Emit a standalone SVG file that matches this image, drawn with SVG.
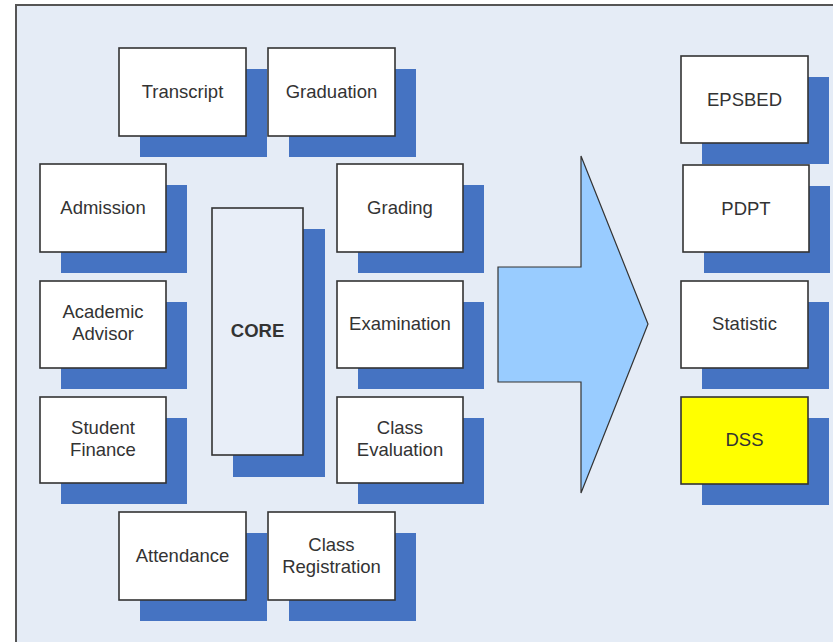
<svg xmlns="http://www.w3.org/2000/svg" width="833" height="642" viewBox="0 0 833 642">
<style>
.sh{fill:#4573c2}
.bx{fill:#ffffff;stroke:#333333;stroke-width:1.6}
.core{fill:#e8eef8;stroke:#333333;stroke-width:1.6}
.dss{fill:#ffff00;stroke:#333333;stroke-width:1.6}
text{font-family:"Liberation Sans",Arial,sans-serif;font-size:18.5px;fill:#333333;text-anchor:middle}
.b{font-weight:bold}
</style>
<rect x="0" y="0" width="833" height="642" fill="#ffffff"/>
<path d="M16,642 V5 H833 V642 Z" fill="#e5ecf6"/>
<path d="M16,642 V5 H833" fill="none" stroke="#555555" stroke-width="2"/>
<g id="connectors">
<polygon points="498,267 581,267 581,156 648,324 581,493 581,382 498,382" fill="#99ccff" stroke="#333333" stroke-width="1.2"/>
</g>
<g id="transcript"><rect class="sh" x="140" y="69" width="127" height="88"/><rect class="bx" x="119" y="48" width="127" height="88"/><text x="182.5" y="98">Transcript</text></g>
<g id="graduation"><rect class="sh" x="289" y="69" width="127" height="88"/><rect class="bx" x="268" y="48" width="127" height="88"/><text x="331.5" y="98">Graduation</text></g>
<g id="admission"><rect class="sh" x="61" y="185" width="126" height="88"/><rect class="bx" x="40" y="164" width="126" height="88"/><text x="103" y="214">Admission</text></g>
<g id="academic-advisor"><rect class="sh" x="61" y="302" width="126" height="87"/><rect class="bx" x="40" y="281" width="126" height="87"/><text x="103" y="318">Academic</text><text x="103" y="340">Advisor</text></g>
<g id="student-finance"><rect class="sh" x="61" y="418" width="126" height="86"/><rect class="bx" x="40" y="397" width="126" height="86"/><text x="103" y="434">Student</text><text x="103" y="456">Finance</text></g>
<g id="attendance"><rect class="sh" x="140" y="533" width="127" height="88"/><rect class="bx" x="119" y="512" width="127" height="88"/><text x="182.5" y="562">Attendance</text></g>
<g id="class-registration"><rect class="sh" x="289" y="533" width="127" height="88"/><rect class="bx" x="268" y="512" width="127" height="88"/><text x="331.5" y="551">Class</text><text x="331.5" y="573">Registration</text></g>
<g id="grading"><rect class="sh" x="358" y="185" width="126" height="88"/><rect class="bx" x="337" y="164" width="126" height="88"/><text x="400" y="214">Grading</text></g>
<g id="examination"><rect class="sh" x="358" y="302" width="126" height="87"/><rect class="bx" x="337" y="281" width="126" height="87"/><text x="400" y="330">Examination</text></g>
<g id="class-evaluation"><rect class="sh" x="358" y="418" width="126" height="86"/><rect class="bx" x="337" y="397" width="126" height="86"/><text x="400" y="434">Class</text><text x="400" y="456">Evaluation</text></g>
<g id="core"><rect class="sh" x="233" y="229" width="92" height="248"/><rect class="core" x="212" y="208" width="91" height="247"/><text class="b" x="257.5" y="337">CORE</text></g>
<g id="epsbed"><rect class="sh" x="702" y="77" width="127" height="87"/><rect class="bx" x="681" y="56" width="127" height="87"/><text x="744.5" y="106">EPSBED</text></g>
<g id="pdpt"><rect class="sh" x="704" y="186" width="126" height="87"/><rect class="bx" x="683" y="165" width="126" height="87"/><text x="746" y="215">PDPT</text></g>
<g id="statistic"><rect class="sh" x="702" y="302" width="127" height="87"/><rect class="bx" x="681" y="281" width="127" height="87"/><text x="744.5" y="330">Statistic</text></g>
<g id="dss"><rect class="sh" x="702" y="418" width="127" height="87"/><rect class="dss" x="681" y="397" width="127" height="87"/><text x="744.5" y="446">DSS</text></g>
</svg>
